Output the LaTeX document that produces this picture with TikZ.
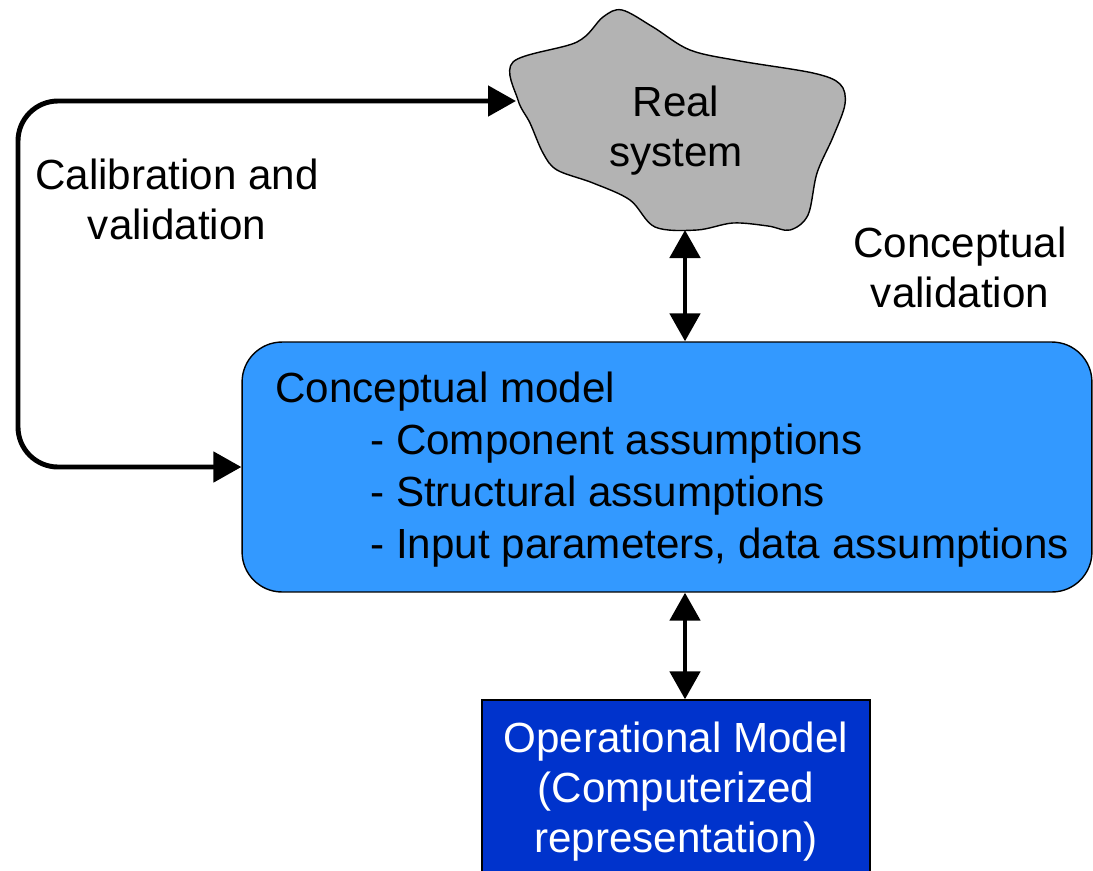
\documentclass[tikz,border=0pt]{standalone}
\usepackage{fontspec}
\setmainfont{Liberation Sans}
\usetikzlibrary{arrows.meta}
\definecolor{cloudgray}{HTML}{B3B3B3}
\definecolor{concblue}{HTML}{3399FF}
\definecolor{opblue}{HTML}{0033CC}

\begin{document}
\begin{tikzpicture}[x=0.02cm, y=-0.02cm,
    tip/.style={Triangle[length=0.56cm, width=0.6cm]},
    link/.style={line width=2.8pt, {Triangle[length=0.56cm, width=0.6cm]}-{Triangle[length=0.56cm, width=0.6cm]}},
    txt/.style={inner sep=0pt, align=center, font=\fontsize{24}{28.5}\selectfont}]
    \useasboundingbox (0,0) rectangle (1093,870);

    % real system
    \draw[fill=cloudgray, line width=0.8pt] plot[smooth cycle, tension=0.55]
    coordinates {(513,62) (577,42) (603,17) (622,10) (653,27) (690,50)
      (740,61) (813,73) (840,84) (845,104) (833,137) (817,173) (808,215)
      (790,230) (768,226) (733,223) (697,230) (655,227) (630,200) (593,183)
      (557,170) (543,153) (530,123) (518,100)} ;
    \node[txt] (real) at (676,131) {Real\\system} ;
    \coordinate (realw) at (516,101) ;
    \coordinate (reals) at (685,230) ;

    \node[draw, fill=concblue, line width=0.8pt, rounded corners=0.8cm,
    minimum width=17cm, minimum height=5cm] (cm) at (667,467) {} ;
    \node[txt, align=left, anchor=north west,
    font=\fontsize{24}{29.6}\selectfont] (cmtext) at (275,372)
    {Conceptual model\\
      \hspace*{1.9cm}- Component assumptions\\
      \hspace*{1.9cm}- Structural assumptions\\
      \hspace*{1.9cm}- Input parameters, data assumptions} ;

    \node[draw, fill=opblue, text=white, line width=0.8pt, minimum width=7.76cm,
    minimum height=3.68cm, font=\fontsize{24}{28.5}\selectfont, align=center]
    (op) at (676,792) {Operational Model\\(Computerized\\representation)} ;

    \node[txt] (calib) at (177,199) {Calibration and\\validation} ;
    \node[txt] (concval) at (960,267) {Conceptual\\validation} ;

    \draw[link] (reals) -- (reals |- cm.north) ;
    \draw[link] (reals |- cm.south) -- (reals |- op.north) ;
    \draw[link, rounded corners=0.8cm] (realw) -- (18,101) -- (18,467) -- (cm.west) ;
  \end{tikzpicture}
\end{document}
